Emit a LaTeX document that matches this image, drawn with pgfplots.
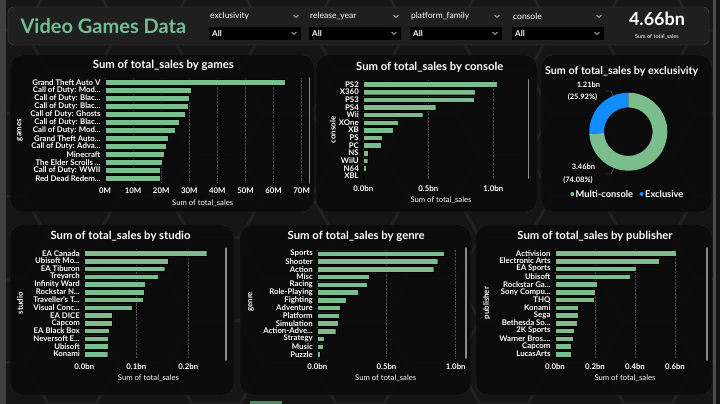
\documentclass[border=0pt]{standalone}
\usepackage{pgfplots}
\pgfplotsset{compat=1.18}
\usepackage{fontspec}
\setmainfont{Lato}
\usetikzlibrary{calc}
\definecolor{bg}{HTML}{151515}
\definecolor{hexline}{HTML}{222222}
\definecolor{panel}{HTML}{0B0B0B}
\definecolor{panelborder}{HTML}{242424}
\definecolor{bargreen}{HTML}{7CBD8E}
\definecolor{titlegreen}{HTML}{74BF92}
\definecolor{exblue}{HTML}{118DFF}
\definecolor{gridgray}{HTML}{4A4A4A}
\definecolor{scroll}{HTML}{8A8A8A}
\newcommand\el{.\kern0pt.\kern0pt.}
\newcommand\tickfont{\bfseries\fontsize{7.8}{8}\selectfont}
\newcommand\titlefont{\bfseries\fontsize{11.3}{12}\selectfont}
\newcommand\labfont{\fontsize{7.7}{8}\selectfont}
\pgfplotsset{
  hbars/.style={
    xbar, scale only axis, y dir=reverse, anchor=north west,
    axis line style={draw=none}, tick style={draw=none}, major tick length=0pt,
    ytick=data, ymin=-0.5, xmin=0,
    enlarge y limits=false, enlarge x limits=false,
    xmajorgrids, grid style={gridgray, densely dotted, line width=0.6pt},
    tick label style={font=\tickfont, text=white},
    yticklabel style={xshift=-1pt},
    xticklabel style={yshift=-2pt},
    cycle list={{fill=bargreen, draw=none}},
    clip=false,
  }
}
\def\exclValue{1.21}
\def\multiValue{3.46}
\begin{document}
\begin{tikzpicture}
% background
\fill[bg] (0,0) rectangle (720pt,404pt);
\useasboundingbox (0,0) rectangle (720pt,404pt);
\begin{scope}[x=1pt,y=1pt]
\begin{scope}
\clip (0,0) rectangle (720,404);
\foreach \i in {0,...,10}{
  \foreach \j in {-1,...,5}{
    \pgfmathsetmacro\cx{\i*72}
    \pgfmathsetmacro\cy{\j*83.1+mod(\i,2)*41.6}
    \draw[hexline, line width=2.5pt] (\cx,\cy) +(0:48) -- +(60:48) -- +(120:48) -- +(180:48) -- +(240:48) -- +(300:48) -- cycle;
  }
}
\end{scope}
\fill[black!75!white] (0,0) rectangle (6,404);
\fill[black!70!white] (713,0) rectangle (716,404);
\fill[black!15!bg] (716,0) rectangle (720,404);
\fill[titlegreen!70!black] (250,0) rectangle (282,3);
% header
\draw[fill=black!88!white, draw=black!70!white, rounded corners=6] (8,359) rectangle (709,397);
\node[anchor=west, text=titlegreen, font=\bfseries\fontsize{20}{22}\selectfont] at (17,378) {Video Games Data};
\foreach \x/\t in {209/exclusivity, 309/release\_year, 410/platform\_family, 512/console}{
  \node[anchor=west, text=white, font=\fontsize{8.5}{9}\selectfont, inner sep=0] at (\x+1,387.5) {\t};
  \draw[white, line width=0.5pt] (\x+84.5,389) -- (\x+87,386.6) -- (\x+89.5,389);
  \fill[black] (\x,364) rectangle (\x+92,377);
  \node[anchor=west, text=white, font=\bfseries\fontsize{8}{9}\selectfont, inner sep=0] at (\x+3,370.3) {All};
  \draw[white, line width=0.5pt] (\x+82.5,372) -- (\x+85,369.6) -- (\x+87.5,372);
}
\node[text=white, font=\bfseries\fontsize{18}{20}\selectfont] at (657,385) {4.66bn};
\node[text=white, font=\fontsize{5.5}{6}\selectfont] at (657,367) {Sum of total\_sales};
% panels
\foreach \a/\b/\c/\d in {10/192/314/349, 316/192/537/349, 541/192/712/349, 10/9/234/179, 240/9/471/179, 476/9/712/179}{
  \draw[fill=panel, fill opacity=0.93, draw=panelborder, rounded corners=12] (\a,\b) rectangle (\c,\d);
}
% titles
\node[text=white, font=\titlefont] at (163.3,338.3) {Sum of total\_sales by games};
\node[text=white, font=\titlefont] at (429.7,336.7) {Sum of total\_sales by console};
\node[text=white, font=\bfseries\fontsize{10.7}{12}\selectfont] at (621.7,332.3) {Sum of total\_sales by exclusivity};
\node[text=white, font=\titlefont] at (120.5,167.3) {Sum of total\_sales by studio};
\node[text=white, font=\titlefont] at (356.2,167.3) {Sum of total\_sales by genre};
\node[text=white, font=\titlefont] at (595,167.3) {Sum of total\_sales by publisher};
% y axis titles
\node[rotate=90, text=white, font=\bfseries\fontsize{7.8}{8}\selectfont] at (20,274) {games};
\node[rotate=90, text=white, font=\bfseries\fontsize{7.8}{8}\selectfont] at (332.7,274) {console};
\node[rotate=90, text=white, font=\bfseries\fontsize{7.8}{8}\selectfont] at (20,100.7) {studio};
\node[rotate=90, text=white, font=\bfseries\fontsize{7.8}{8}\selectfont] at (251,102.3) {genre};
\node[rotate=90, text=white, font=\bfseries\fontsize{7.8}{8}\selectfont] at (486.7,101) {publisher};
% x axis titles
\node[text=white, font=\labfont] at (202.7,200.3) {Sum of total\_sales};
\node[text=white, font=\labfont] at (441,204) {Sum of total\_sales};
\node[text=white, font=\labfont] at (148.5,26) {Sum of total\_sales};
\node[text=white, font=\labfont] at (385.7,26) {Sum of total\_sales};
\node[text=white, font=\labfont] at (625,26) {Sum of total\_sales};
% scrollbars
\foreach \x/\ya/\yb in {309.5/221/326, 528.3/226/324, 225.7/44/155.7, 465.7/46/156, 706.7/44/156}{
  \draw[scroll, line width=1.6pt, line cap=round] (\x,\ya) -- (\x,\yb);
}
\end{scope}

% games
\begin{axis}[hbars, at={(105pt,325.7pt)}, width=202.3pt, height=104pt, xmax=72, ymax=12.5, bar width=6pt,
  xtick={0,10,20,30,40,50,60,70}, xticklabels={0M,10M,20M,30M,40M,50M,60M,70M},
  yticklabels={Grand Theft Auto V, Call of Duty: Mod\el, Call of Duty: Blac\el, Call of Duty: Blac\el, Call of Duty: Ghosts, Call of Duty: Blac\el, Call of Duty: Mod\el, Grand Theft Auto\el, Call of Duty: Adva\el, Minecraft, The Elder Scrolls \el, Call of Duty: WWII, Red Dead Redem\el}]
\addplot coordinates {(64.3,0) (30.6,1) (30.1,2) (29.5,3) (28.7,4) (26.5,5) (24.9,6) (22.4,7) (21.7,8) (21.1,9) (20.5,10) (19.8,11) (19.6,12)};
\end{axis}
% console
\begin{axis}[hbars, at={(363.3pt,323.5pt)}, width=161.7pt, height=99.3pt, xmax=1.244, ymax=12.5, bar width=5.5pt,
  xtick={0,0.5,1}, xticklabels={0.0bn,0.5bn,1.0bn},
  yticklabels={PS2,X360,PS3,PS4,Wii,XOne,XB,PS,PC,NS,WiiU,N64,XBL}]
\addplot coordinates {(1.031,0) (0.859,1) (0.854,2) (0.557,3) (0.457,4) (0.267,5) (0.231,6) (0.149,7) (0.141,8) (0.036,9) (0.034,10) (0.020,11) (0.002,12)};
\end{axis}
% studio
\begin{axis}[hbars, at={(84.3pt,154.6pt)}, width=138.7pt, height=108.5pt, xmax=0.2667, ymax=13.5, bar width=5.5pt,
  xtick={0,0.1,0.2}, xticklabels={0.0bn,0.1bn,0.2bn},
  yticklabels={EA Canada, Ubisoft Mo\el, EA Tiburon, Treyarch, Infinity Ward, Rockstar N\el, Traveller's T\el, Visual Conc\el, EA DICE, Capcom, EA Black Box, Neversoft E\el, Ubisoft, Konami}]
\addplot coordinates {(0.2354,0) (0.162,1) (0.1546,2) (0.143,3) (0.118,4) (0.116,5) (0.113,6) (0.0917,7) (0.0546,8) (0.0533,9) (0.0475,10) (0.0462,11) (0.0456,12) (0.045,13)};
\end{axis}
% genre
\begin{axis}[hbars, at={(317.3pt,154.2pt)}, width=145.7pt, height=108.4pt, xmax=1.0527, ymax=13.5, bar width=5.5pt,
  xtick={0,0.5,1}, xticklabels={0.0bn,0.5bn,1.0bn},
  yticklabels={Sports, Shooter, Action, Misc, Racing, Role-Playing, Fighting, Adventure, Platform, Simulation, Action-Adve\el, Strategy, Music, Puzzle}]
\addplot coordinates {(0.915,0) (0.870,1) (0.841,2) (0.374,3) (0.359,4) (0.294,5) (0.210,6) (0.164,7) (0.155,8) (0.149,9) (0.133,10) (0.051,11) (0.043,12) (0.022,13)};
\end{axis}
% publisher
\begin{axis}[hbars, at={(555pt,154.6pt)}, width=148pt, height=108.5pt, xmax=0.74, ymax=13.5, bar width=5.5pt,
  xtick={0,0.2,0.4,0.6}, xticklabels={0.0bn,0.2bn,0.4bn,0.6bn},
  yticklabels={Activision, Electronic Arts, EA Sports, Ubisoft, Rockstar Ga\el, Sony Compu\el, THQ, Konami, Sega, Bethesda So\el, 2K Sports, Warner Bros.\el, Capcom, LucasArts}]
\addplot coordinates {(0.605,0) (0.522,1) (0.408,2) (0.378,3) (0.213,4) (0.200,5) (0.195,6) (0.118,7) (0.117,8) (0.110,9) (0.098,10) (0.090,11) (0.083,12) (0.083,13)};
\end{axis}
% donut
\pgfmathsetmacro\aEnd{90+360*\exclValue/(\exclValue+\multiValue)}
\begin{axis}[at={(628.3pt,272.3pt)}, anchor=center, scale only axis, width=80pt, height=80pt,
  xmin=-1, xmax=1, ymin=-1, ymax=1, hide axis, clip=false]
\fill[exblue] ($(axis cs:0,0)+(90:39pt)$) arc[start angle=90, end angle=\aEnd, radius=39pt]
   -- ($(axis cs:0,0)+(\aEnd:24.3pt)$) arc[start angle=\aEnd, end angle=90, radius=24.3pt] -- cycle;
\fill[bargreen] ($(axis cs:0,0)+(\aEnd:39pt)$) arc[start angle=\aEnd, end angle=450, radius=39pt]
   -- ($(axis cs:0,0)+(450:24.3pt)$) arc[start angle=450, end angle=\aEnd, radius=24.3pt] -- cycle;
\end{axis}
\begin{scope}[x=1pt,y=1pt]
\draw[gray, line width=0.4pt] (605,313) -- (611,313) -- (614,306);
\draw[gray, line width=0.4pt] (605,230) -- (611,230) -- (614,236);
\node[text=white, font=\bfseries\fontsize{7.5}{8}\selectfont] at (588.5,319) {1.21bn};
\node[text=white, font=\bfseries\fontsize{7.5}{8}\selectfont] at (582.5,307) {(25.92\%)};
\node[text=white, font=\bfseries\fontsize{7.5}{8}\selectfont] at (583.5,237) {3.46bn};
\node[text=white, font=\bfseries\fontsize{7.5}{8}\selectfont] at (578,224) {(74.08\%)};
\fill[bargreen] (572.3,210) circle (2pt);
\node[anchor=west, text=white, font=\bfseries\fontsize{9.3}{10}\selectfont, inner sep=0] at (575.5,210) {Multi-console};
\fill[exblue] (641.7,210) circle (2pt);
\node[anchor=west, text=white, font=\bfseries\fontsize{9.3}{10}\selectfont, inner sep=0] at (645,210) {Exclusive};
\end{scope}
\end{tikzpicture}
\end{document}
